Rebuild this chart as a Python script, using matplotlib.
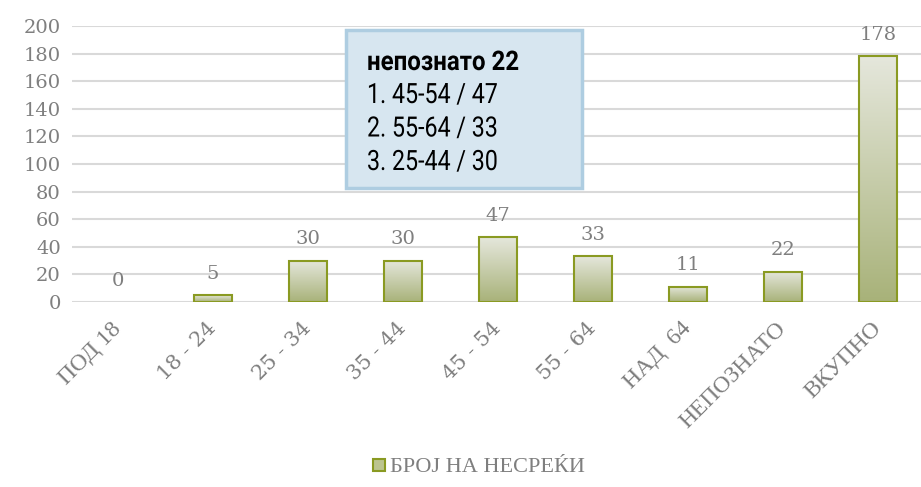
import numpy as np
import matplotlib.pyplot as plt
from matplotlib.colors import LinearSegmentedColormap
from matplotlib.patches import Rectangle, PathPatch
from matplotlib.lines import Line2D
from matplotlib.textpath import TextPath
from matplotlib.font_manager import FontProperties
from matplotlib.transforms import Affine2D, IdentityTransform

# age groups and number of accidents
categories = ['ПОД 18', '18 - 24', '25 - 34', '35 - 44', '45 - 54',
              '55 - 64', 'НАД  64', 'НЕПОЗНАТО', 'ВКУПНО']
counts = [0, 5, 30, 30, 47, 33, 11, 22, 178]
yticks = [0, 20, 40, 60, 80, 100, 120, 140, 160, 180, 200]
legend_label = 'БРОЈ НА НЕСРЕЌИ'
box_title = 'непознато 22'
box_lines = ['1. 45-54 / 47', '2. 55-64 / 33', '3. 25-44 / 30']

gray = '#7f7f7f'
edge = '#8a9a22'
grad = LinearSegmentedColormap.from_list('g', ['#a8b279', '#e5e7dc'])

W, H = 921, 487
fig = plt.figure(figsize=(W / 100, H / 100), dpi=100)
ax = fig.add_axes([72 / W, 185 / H, (921 - 72) / W, 276 / H])

x = np.arange(len(categories))
bars = ax.bar(x, counts, width=0.4, color='none', edgecolor=edge, linewidth=1.5, zorder=3)

# vertical gradient inside each bar
g = np.linspace(0, 1, 256).reshape(-1, 1)
for b in bars:
    if b.get_height() <= 0:
        b.set_visible(False)
        continue
    x0, y0 = b.get_x(), b.get_y()
    im = ax.imshow(g, cmap=grad, origin='lower', aspect='auto',
                   extent=[x0, x0 + b.get_width(), y0, y0 + b.get_height()], zorder=2)
    im.set_clip_path(b)

for xi, v in zip(x, counts):
    ax.text(xi, v + 9, str(v), ha='center', va='bottom', color=gray,
            fontsize=14, family='DejaVu Serif')

ax.set_xlim((72 - 118) / 95, (921 - 118) / 95)
ax.set_ylim(0, 200)
ax.set_yticks(yticks)
ax.set_yticklabels([str(t) for t in yticks], color=gray, fontsize=14, family='DejaVu Serif')
ax.yaxis.grid(True, color='#d9d9d9', linewidth=1.5, zorder=0)
ax.set_axisbelow(True)
for s in ax.spines.values():
    s.set_visible(False)
ax.tick_params(axis='y', length=0, pad=8)
ax.tick_params(axis='x', length=0, pad=17)
ax.set_xticks(x)
ax.set_xticklabels(categories, rotation=45, ha='right', va='center', rotation_mode='anchor',
                   color=gray, fontsize=16)
for lab in ax.get_xticklabels():
    t = lab.get_text()
    if any(c.isalpha() for c in t):
        lab.set_family('Liberation Serif')
        lab.set_fontsize(17)
    else:
        lab.set_family('DejaVu Serif')
        lab.set_fontsize(15)

# annotation box
fig.patches.append(Rectangle((346 / W, 1 - 188 / H), 236 / W, 158 / H, transform=fig.transFigure,
                             facecolor='#d7e6f0', edgecolor='#aecde1', linewidth=2.5, zorder=5))


def condensed_text(s, x_px, base_px, weight='normal', size=28, sx=0.83):
    # narrow sans text drawn as a path, squeezed horizontally
    tp = TextPath((0, 0), s, size=size, prop=FontProperties(family='Roboto', weight=weight))
    tr = Affine2D().scale(sx, 1).translate(x_px, H - base_px) + IdentityTransform()
    fig.patches.append(PathPatch(tp, transform=tr, facecolor='black', edgecolor='none', zorder=6))


condensed_text(box_title, 367, 70, weight='bold', size=27, sx=0.89)
for i, t in enumerate(box_lines):
    condensed_text(t, 367, 103 + 33.5 * i)

# legend
handle = Line2D([], [], marker='s', linestyle='none', markersize=9,
                markerfacecolor='#bcc48f', markeredgecolor=edge, markeredgewidth=1.5)
fig.legend([handle], [legend_label], loc='center', bbox_to_anchor=(476 / W, 1 - 467 / H),
           frameon=False, handletextpad=0.0, handlelength=1.0,
           prop={'family': 'Liberation Serif', 'size': 16}, labelcolor=gray)

fig.savefig('out.png', dpi=100)
